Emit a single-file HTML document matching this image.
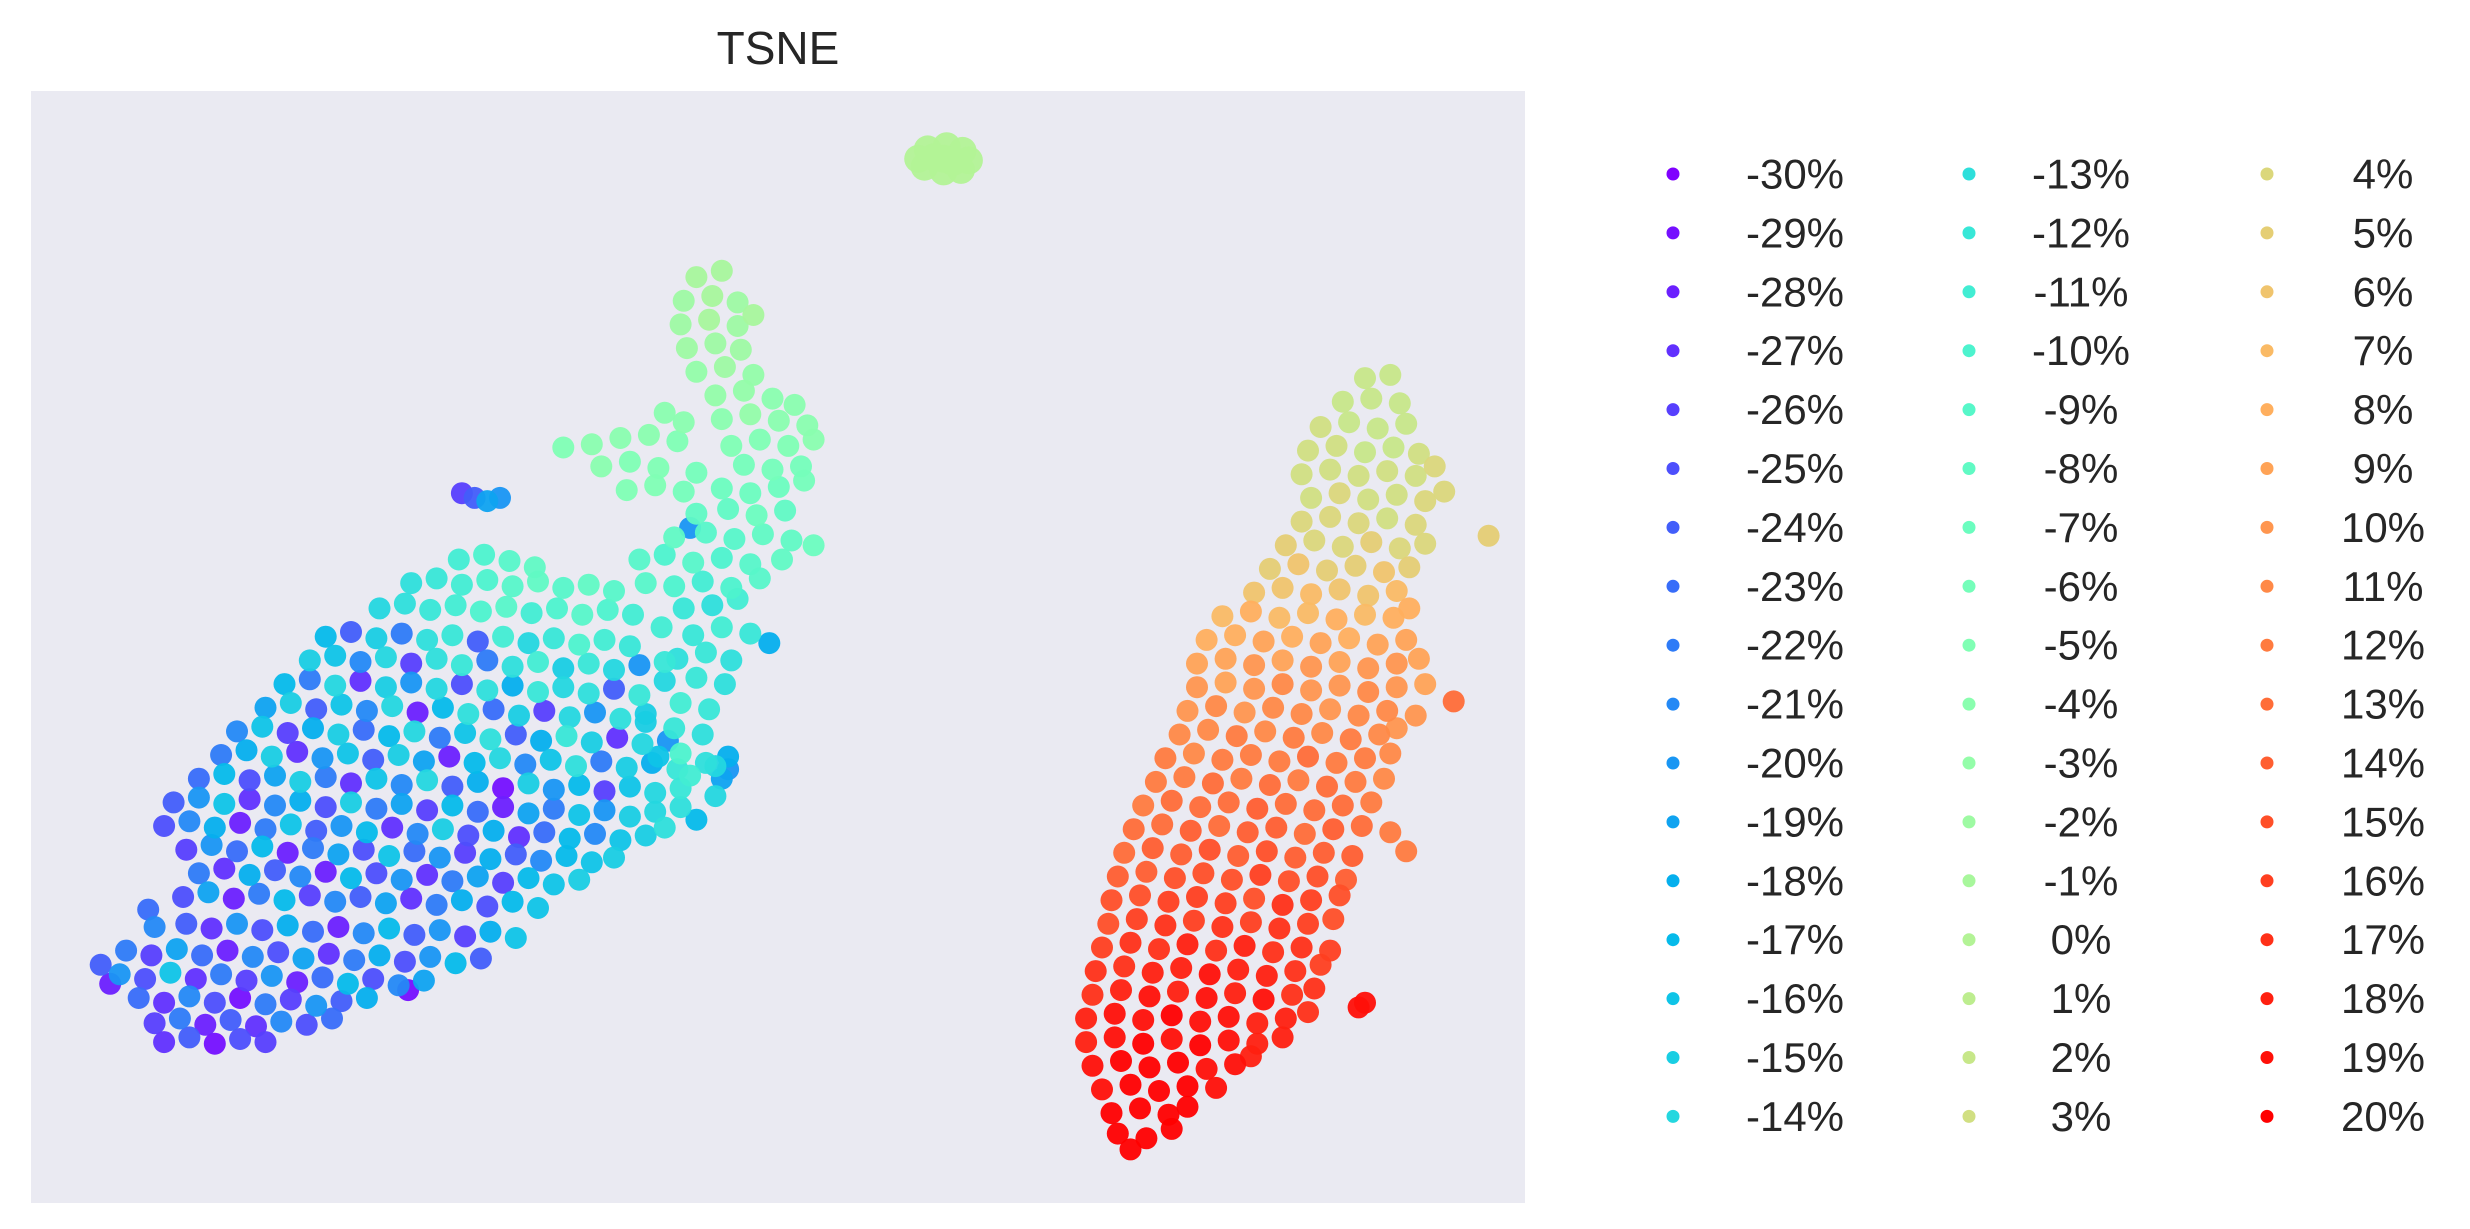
<!DOCTYPE html>
<html><head><meta charset="utf-8"><style>
body{margin:0;background:#fff;}
svg{display:block;font-family:"Liberation Sans",Arial,sans-serif;}
</style></head><body>
<svg id="chart" width="2470" height="1229" viewBox="0 0 2470 1229">
<rect x="31" y="91" width="1494" height="1112" fill="#eaeaf2"/>
<text x="778" y="64" font-size="46" text-anchor="middle" fill="#262626">TSNE</text>
<g id="points"></g>
<g id="legend"></g>
</svg>
<script>
const legendValues = [];
for (let v = -30; v <= 20; v++) legendValues.push(v);

const zeroBlob = [[586,95,0],[598,93,0],[608,96,0],[584,106,0],[596,101,0],[580,101,0],[612,102,0],[596,109,0],[607,108,0],[590,100,0],[602,103,0]];

const rightCluster = [
[862,240,2],[878,238,2],[848,255,2],[866,253,2],[884,256,2],
[834,271,3],[852,268,2],[870,272,2],[888,269,2],
[826,286,3],[844,283,3],[862,287,2],[880,284,2],[896,288,3],
[822,301,3],[840,298,3],[858,302,3],[876,299,3],[894,302,3],[906,296,4],
[828,316,3],[846,313,4],[864,317,3],[882,314,3],[900,318,4],[912,312,4],
[822,331,4],[840,328,4],[858,332,4],[876,329,3],[894,333,4],
[812,346,5],[830,343,4],[848,347,4],[866,344,5],[884,348,4],[900,345,4],[940,340,5],
[802,361,5],[820,358,6],[838,362,5],[856,359,5],[874,363,6],[890,360,5],
[792,376,6],[810,373,6],[828,377,7],[846,374,6],[864,378,6],[882,375,7],
[772,391,7],[790,388,8],[808,392,7],[826,389,7],[844,393,8],[862,390,7],[880,392,8],[890,386,8],
[762,406,8],[780,403,8],[798,407,9],[816,404,8],[834,408,9],[852,405,8],[870,409,9],[888,406,9],
[756,421,9],[774,418,9],[792,422,10],[810,419,9],[828,423,10],[846,420,9],[864,424,10],[882,421,10],[896,418,9],
[756,436,10],[774,433,9],[792,437,10],[810,434,11],[828,438,10],[846,435,10],[864,439,11],[882,436,10],[900,434,9],[918,445,13],
[750,451,10],[768,448,11],[786,452,10],[804,449,11],[822,453,11],[840,450,10],[858,454,11],[876,451,11],[894,454,10],
[745,466,11],[763,463,11],[781,467,12],[799,464,11],[817,468,12],[835,465,11],[853,469,12],[871,466,11],[882,462,10],
[736,481,12],[754,478,11],[772,482,12],[790,479,12],[808,483,12],[826,480,13],[844,484,12],[862,481,12],[878,478,11],
[730,496,12],[748,493,12],[766,497,13],[784,494,12],[802,498,13],[820,495,12],[838,499,13],[856,496,12],[874,494,11],
[722,511,12],[740,508,13],[758,512,13],[776,509,13],[794,513,14],[812,510,13],[830,514,13],[848,511,13],[866,509,12],
[716,526,13],[734,523,13],[752,527,14],[770,524,13],[788,528,14],[806,525,14],[824,529,13],[842,526,14],[860,524,13],[878,528,12],
[710,541,13],[728,538,14],[746,542,14],[764,539,15],[782,543,14],[800,540,15],[818,544,14],[836,541,14],[854,543,14],[888,540,12],
[706,556,14],[724,553,14],[742,557,15],[760,554,15],[778,558,15],[796,555,16],[814,559,15],[832,556,15],[850,558,14],
[702,571,15],[720,568,15],[738,572,16],[756,569,16],[774,573,16],[792,570,15],[810,574,17],[828,571,16],[846,568,15],
[700,586,15],[718,583,16],[736,587,17],[754,584,16],[772,588,17],[790,585,16],[808,589,17],[826,586,16],[842,583,15],
[696,601,16],[714,598,17],[732,602,17],[750,599,18],[768,603,17],[786,600,18],[804,604,17],[822,601,17],[840,603,16],
[692,616,17],[710,613,17],[728,617,18],[746,614,18],[764,618,19],[782,615,18],[800,619,18],[818,616,17],[834,612,16],
[690,631,17],[708,628,18],[726,632,19],[744,629,18],[762,633,19],[780,630,18],[798,634,19],[816,631,17],[830,627,17],[858,639,19],[862,636,19],
[686,646,18],[704,643,19],[722,647,19],[740,644,20],[758,648,19],[776,645,19],[794,649,18],[812,646,18],[826,642,17],
[686,661,18],[704,658,19],[722,662,20],[740,659,19],[758,663,20],[776,660,19],[794,662,18],[810,658,18],
[690,676,19],[708,673,20],[726,677,20],[744,674,20],[762,678,19],[780,675,19],[790,670,18],
[696,691,19],[714,688,20],[732,692,20],[750,689,20],[768,690,19],
[702,706,20],[720,703,20],[738,707,20],[750,702,20],
[706,719,20],[724,722,20],[740,716,20],[714,729,20]
];

const leftArm = [
[440,176,-1],[456,172,-1],[432,191,-2],[450,188,-1],[466,192,-2],
[430,206,-2],[448,203,-1],[466,207,-2],[476,200,-1],
[434,221,-2],[452,218,-2],[468,222,-2],
[440,236,-3],[458,233,-2],[476,238,-3],
[452,251,-3],[470,248,-3],[488,253,-4],[502,257,-4],
[420,262,-4],[432,268,-4],[456,266,-4],[474,263,-3],[492,267,-4],[510,270,-4],
[356,284,-5],[374,282,-4],[392,278,-4],[410,276,-4],[428,280,-5],[462,283,-5],[480,279,-5],[498,283,-5],[514,279,-4],
[380,296,-4],[398,293,-5],[416,297,-5],[440,300,-6],[470,295,-6],[488,298,-6],[506,296,-6],
[396,311,-5],[414,308,-5],[432,312,-6],[456,310,-7],[474,313,-7],[492,309,-7],[508,305,-6],
[440,326,-8],[460,323,-8],[478,327,-7],[496,324,-8],[514,346,-7],
[426,341,-8],[446,338,-9],[464,342,-9],[482,339,-8],[500,343,-8],[436,335,-20],
[404,355,-9],[420,352,-10],[438,357,-9],[456,354,-10],[474,358,-9],[494,355,-8],
[408,370,-9],[426,372,-10],[444,369,-11],[462,373,-10],[480,367,-9],
[432,386,-12],[450,384,-13],[466,380,-11],
[418,398,-11],[438,403,-12],[456,398,-11],[474,402,-12],[486,408,-18],
[428,418,-13],[446,414,-12],[462,419,-13],[420,432,-14],[440,430,-12],[458,434,-13],
[430,446,-11],[448,450,-12],[408,458,-15],[426,462,-12],[444,466,-13],[460,488,-20],[452,486,-14],[430,478,-10],[416,480,-16],
[292,313,-26],[300,316,-24],[308,318,-19],[316,316,-20]
];

const leftMain = [
[290,355,-11],[306,352,-10],[322,356,-9],[338,360,-8],
[260,370,-13],[276,367,-12],[292,371,-11],[308,368,-10],[324,372,-9],[340,369,-8],[356,373,-9],[372,371,-8],[388,375,-9],
[240,386,-14],[256,383,-13],[272,387,-12],[288,384,-11],[304,388,-10],[320,385,-9],[336,389,-11],[352,386,-10],[368,390,-9],[384,387,-10],[400,390,-11],
[206,404,-17],[222,401,-24],[238,405,-15],[254,402,-22],[270,406,-13],[286,403,-12],[302,407,-24],[318,404,-11],[334,408,-14],[350,405,-12],[366,409,-10],[382,406,-11],[398,410,-12],
[196,419,-15],[212,416,-16],[228,420,-21],[244,417,-14],[260,421,-26],[276,418,-13],[292,422,-12],[308,419,-22],[324,423,-13],[340,420,-11],[356,424,-15],[372,421,-12],[388,425,-14],[404,422,-20],[420,420,-12],
[180,434,-17],[196,431,-22],[212,435,-14],[228,432,-27],[244,436,-15],[260,433,-20],[276,437,-14],[292,434,-25],[308,438,-13],[324,435,-18],[340,439,-12],[356,436,-14],[372,440,-13],[388,437,-24],[404,441,-12],
[168,449,-19],[184,446,-15],[200,450,-24],[216,447,-16],[232,451,-21],[248,448,-14],[264,452,-28],[280,449,-17],[296,453,-13],[312,450,-23],[328,454,-15],[344,451,-26],[360,455,-14],[376,452,-20],[392,456,-13],[408,453,-15],
[150,464,-21],[166,461,-16],[182,465,-26],[198,462,-18],[214,466,-15],[230,463,-23],[246,467,-17],[262,464,-14],[278,468,-22],[294,465,-16],[310,469,-13],[326,466,-24],[342,470,-18],[358,467,-12],[374,471,-15],[390,468,-27],[406,472,-14],[422,470,-20],
[140,479,-22],[156,476,-18],[172,480,-15],[188,477,-27],[204,481,-20],[220,478,-16],[236,482,-24],[252,479,-15],[268,483,-19],[284,480,-28],[300,484,-17],[316,481,-14],[332,485,-21],[348,482,-16],[364,486,-13],[380,483,-22],[396,487,-15],[412,484,-18],[428,488,-12],[446,484,-13],
[126,494,-23],[142,491,-17],[158,495,-25],[174,492,-19],[190,496,-15],[206,493,-22],[222,497,-27],[238,494,-16],[254,498,-21],[270,495,-14],[286,499,-24],[302,496,-18],[318,500,-29],[334,497,-15],[350,501,-20],[366,498,-17],[382,502,-26],[398,499,-16],[414,503,-14],[430,500,-12],[456,494,-19],
[110,509,-24],[126,506,-20],[142,510,-16],[158,507,-27],[174,511,-21],[190,508,-18],[206,512,-25],[222,509,-15],[238,513,-22],[254,510,-19],[270,514,-26],[286,511,-17],[302,515,-23],[318,512,-28],[334,516,-19],[350,513,-22],[366,517,-16],[382,514,-20],[398,518,-15],[414,515,-14],[430,512,-13],
[104,524,-25],[120,521,-21],[136,525,-18],[152,522,-28],[168,526,-22],[184,523,-16],[200,527,-24],[216,524,-20],[232,528,-17],[248,525,-27],[264,529,-21],[280,526,-15],[296,530,-25],[312,527,-18],[328,531,-27],[344,528,-23],[360,532,-17],[376,529,-21],[392,533,-16],[408,530,-15],
[118,539,-26],[134,536,-20],[150,540,-23],[166,537,-17],[182,541,-28],[198,538,-22],[214,542,-19],[230,539,-25],[246,543,-16],[262,540,-23],[278,544,-20],[294,541,-26],[310,545,-18],[326,542,-24],[342,546,-21],[358,543,-17],[374,547,-16],[388,544,-15],
[126,554,-22],[142,551,-27],[158,555,-18],[174,552,-24],[190,556,-21],[206,553,-28],[222,557,-17],[238,554,-25],[254,558,-20],[270,555,-27],[286,559,-22],[302,556,-19],[318,560,-26],[334,557,-17],[350,561,-16],[366,558,-15],
[94,577,-23],[116,569,-25],[132,566,-19],[148,570,-28],[164,567,-22],[180,571,-17],[196,568,-26],[212,572,-21],[228,569,-24],[244,573,-19],[260,570,-27],[276,574,-22],[292,571,-18],[308,575,-25],[324,572,-17],[340,576,-16],
[98,588,-21],[118,586,-24],[134,589,-27],[150,586,-20],[166,590,-25],[182,587,-18],[198,591,-23],[214,588,-28],[230,592,-21],[246,589,-17],[262,593,-24],[278,590,-20],[294,594,-26],[310,591,-18],[326,595,-16],
[80,603,-22],[96,606,-26],[112,602,-19],[128,606,-23],[144,603,-28],[160,607,-21],[176,604,-25],[192,608,-19],[208,605,-27],[224,609,-22],[240,606,-18],[256,610,-25],[272,607,-20],[288,611,-17],[304,608,-24],
[64,612,-24],[76,618,-20],[92,621,-25],[108,617,-16],[124,621,-27],[140,618,-22],[156,622,-26],[172,619,-20],[188,623,-28],[204,620,-23],[220,624,-17],[236,621,-25],[252,625,-21],[268,622,-19],[258,628,-29],
[70,624,-28],[88,633,-23],[104,636,-27],[120,632,-21],[136,636,-25],[152,633,-29],[168,637,-22],[184,634,-26],[200,638,-20],[216,635,-24],[232,633,-18],
[98,649,-26],[114,646,-22],[130,650,-28],[146,647,-24],[162,651,-27],[178,648,-21],[194,650,-25],[210,646,-23],
[104,661,-27],[120,658,-24],[136,662,-29],[152,659,-25],[168,661,-26],
[436,492,-11],[452,505,-14],[440,520,-17],[420,525,-13],[460,480,-18]
];

const NS = "http://www.w3.org/2000/svg";
const xDomain = [20, 963], yDomain = [58, 763];
const xRange = [31, 1525], yRange = [91, 1203];
function xScale(v){ return xRange[0] + (v - xDomain[0]) / (xDomain[1] - xDomain[0]) * (xRange[1] - xRange[0]); }
function yScale(v){ return yRange[0] + (v - yDomain[0]) / (yDomain[1] - yDomain[0]) * (yRange[1] - yRange[0]); }
function rainbow(v){
  const t = (v - legendValues[0]) / (legendValues[legendValues.length-1] - legendValues[0]);
  const c = x => Math.max(0, Math.min(1, x));
  const r = c(Math.abs(2*t - 0.5)), g = c(Math.sin(Math.PI*t)), b = c(Math.cos(Math.PI*t/2));
  return `rgb(${Math.round(r*255)},${Math.round(g*255)},${Math.round(b*255)})`;
}

const all = [].concat(leftMain, leftArm, rightCluster, zeroBlob).slice().sort((a,b)=>a[2]-b[2]);
const pg = document.getElementById('points');
all.forEach(p => {
  const el = document.createElementNS(NS, 'circle');
  el.setAttribute('cx', xScale(p[0]).toFixed(1));
  el.setAttribute('cy', yScale(p[1]).toFixed(1));
  el.setAttribute('r', p[2] === 0 ? 14 : 11);
  el.setAttribute('fill', rainbow(p[2]));
  el.setAttribute('fill-opacity', 0.95);
  
  
  pg.appendChild(el);
});

const lg = document.getElementById('legend');
const colDotX = [1673, 1969, 2267], colTextX = [1795, 2081, 2383];
legendValues.forEach((v, i) => {
  const col = Math.floor(i / 17), row = i % 17;
  const cy = 174 + row * 58.9;
  const g = document.createElementNS(NS, 'g');
  
  
  const d = document.createElementNS(NS, 'ellipse');
  d.setAttribute('cx', colDotX[col]); d.setAttribute('cy', cy);
  d.setAttribute('rx', 6.5); d.setAttribute('ry', 6.5);
  d.setAttribute('fill', rainbow(v));
  
  
  const t = document.createElementNS(NS, 'text');
  t.setAttribute('x', colTextX[col]); t.setAttribute('y', cy + 14.5);
  t.setAttribute('text-anchor', 'middle');
  t.setAttribute('font-size', '42');
  t.setAttribute('fill', '#262626');
  t.textContent = v + '%';
  
  
  g.appendChild(d); g.appendChild(t); lg.appendChild(g);
});
</script>
</body></html>
